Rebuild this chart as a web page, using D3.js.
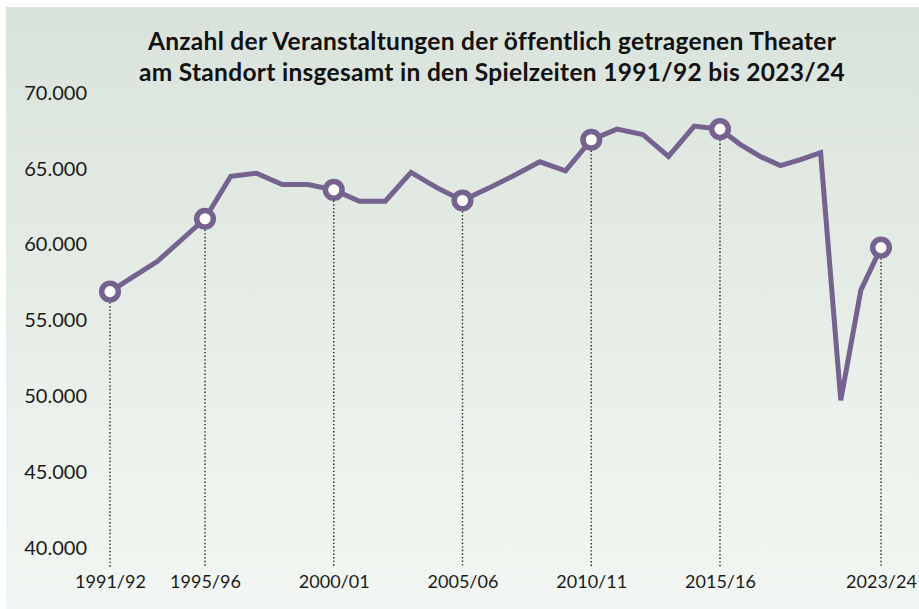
<!DOCTYPE html>
<html>
<head>
<meta charset="utf-8">
<script src="https://cdn.jsdelivr.net/npm/d3@7"></script>
<style>
  html, body { margin: 0; padding: 0; background: #ffffff; }
  svg { display: block; }
</style>
</head>
<body>
<div id="chart"></div>
<script>
// Spielzeiten (x-Achse)
const seasons = [
    '1991/92', '1992/93', '1993/94', '1994/95', '1995/96', '1996/97', '1997/98',
    '1998/99', '1999/00', '2000/01', '2001/02', '2002/03', '2003/04', '2004/05',
    '2005/06', '2006/07', '2007/08', '2008/09', '2009/10', '2010/11', '2011/12',
    '2012/13', '2013/14', '2014/15', '2015/16', '2016/17', '2017/18', '2018/19',
    '2019/20', '2020/21', '2021/22', '2022/23', '2023/24',
]

// Anzahl der Veranstaltungen (aus dem Bild geschätzt)
const events = [
    56900, 57900, 58900, 60300, 61700, 64500, 64700,
    63950, 63950, 63600, 62850, 62850, 64750, 63750,
    62900, 63700, 64550, 65450, 64850, 66900, 67600,
    67250, 65800, 67800, 67600, 66600, 65800, 65200,
    65600, 66050, 49750, 57000, 59800,
]

// Spielzeiten mit Markierung und Beschriftung
const markedSeasons = ['1991/92', '1995/96', '2000/01', '2005/06', '2010/11', '2015/16', '2023/24']

const titleLines = [
    'Anzahl der Veranstaltungen der öffentlich getragenen Theater',
    'am Standort insgesamt in den Spielzeiten 1991/92 bis 2023/24',
]

const width = 919
const height = 609
const lineColor = '#75628f'

const de = d3.formatLocale({ decimal: ',', thousands: '.', grouping: [3], currency: ['', ' €'] })
const fmt = de.format(',')

const data = seasons.map((s, i) => ({ season: s, year: parseInt(s, 10), value: events[i] }))
const marked = data.filter(d => markedSeasons.includes(d.season))

const svg = d3.select('#chart').append('svg')
    .attr('width', width)
    .attr('height', height)

// Hintergrund mit leichtem Verlauf
const grad = svg.append('defs').append('linearGradient')
    .attr('id', 'bg')
    .attr('x1', 0).attr('y1', 0).attr('x2', 0).attr('y2', 1)
grad.append('stop').attr('offset', '0%').attr('stop-color', '#d9e3db')
grad.append('stop').attr('offset', '100%').attr('stop-color', '#f3f7f3')

svg.append('rect')
    .attr('x', 6).attr('y', 7)
    .attr('width', width - 6).attr('height', height - 7)
    .attr('fill', 'url(#bg)')

// Skalen: die Beschriftungen liegen im Original nicht gleichmäßig
const x = d3.scaleLinear()
    .domain([1991, 1995, 2015, 2023])
    .range([110, 205, 720, 881])

const y = d3.scaleLinear()
    .domain([40000, 70000])
    .range([548.3, 92.7])

// Titel
svg.append('g')
    .selectAll('text')
    .data(titleLines)
    .join('text')
    .attr('x', 492)
    .attr('y', (d, i) => 50 + i * 31)
    .attr('text-anchor', 'middle')
    .attr('font-family', 'Lato, sans-serif')
    .attr('font-weight', 700)
    .attr('font-size', '24.5px')
    .attr('letter-spacing', '0.3px')
    .attr('fill', '#111')
    .text(d => d)

// y-Achse
const yAxis = svg.append('g')
    .attr('transform', 'translate(95,0)')
    .call(d3.axisLeft(y).ticks(6).tickSize(0).tickPadding(8).tickFormat(fmt))
yAxis.select('.domain').remove()
yAxis.selectAll('text')
    .attr('font-family', 'Lato, sans-serif')
    .attr('font-size', '20px')
    .attr('fill', '#1a1a1a')

// x-Achse
const xAxis = svg.append('g')
    .attr('transform', 'translate(0,569)')
    .call(d3.axisBottom(x)
        .tickValues(marked.map(d => d.year))
        .tickSize(0)
        .tickPadding(6)
        .tickFormat(v => data.find(d => d.year === v).season))
xAxis.select('.domain').remove()
xAxis.selectAll('text')
    .attr('font-family', 'Lato, sans-serif')
    .attr('font-size', '18px')
    .attr('fill', '#1a1a1a')

// gepunktete Lotlinien
svg.append('g')
    .selectAll('line')
    .data(marked)
    .join('line')
    .attr('x1', d => x(d.year))
    .attr('x2', d => x(d.year))
    .attr('y1', d => y(d.value))
    .attr('y2', 567)
    .attr('stroke', '#222')
    .attr('stroke-width', 1.4)
    .attr('stroke-dasharray', '1.4,2.2')

// Linie
const line = d3.line()
    .x(d => x(d.year))
    .y(d => y(d.value))

svg.append('path')
    .datum(data)
    .attr('d', line)
    .attr('fill', 'none')
    .attr('stroke', lineColor)
    .attr('stroke-width', 5)
    .attr('stroke-linejoin', 'miter')

// Markierungen
svg.append('g')
    .selectAll('circle')
    .data(marked)
    .join('circle')
    .attr('cx', d => x(d.year))
    .attr('cy', d => y(d.value))
    .attr('r', 8.3)
    .attr('fill', '#fff')
    .attr('stroke', lineColor)
    .attr('stroke-width', 5.5)
</script>
</body>
</html>
